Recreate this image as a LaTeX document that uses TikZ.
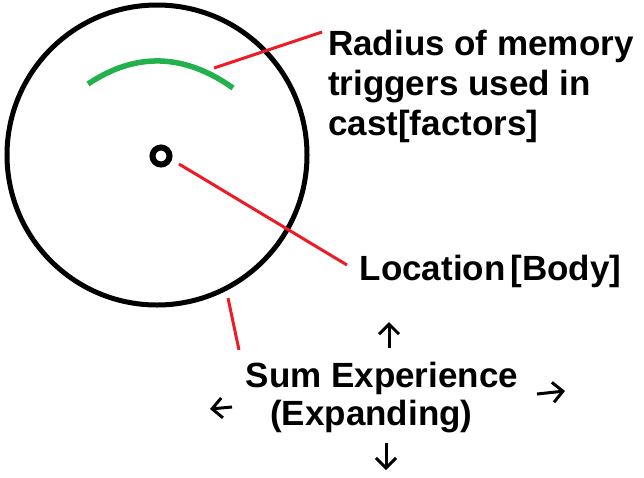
\documentclass[tikz,border=0pt]{standalone}
\usepackage{fontspec}
\setmainfont{Liberation Sans}
\usetikzlibrary{arrows.meta}
\definecolor{pred}{RGB}{237,28,36}
\definecolor{pgreen}{RGB}{34,177,76}
\tikzset{
  txtlabel/.style={anchor=base west, inner sep=0pt, font=\fontsize{35}{40}\selectfont\bfseries},
  leader/.style={draw=pred, line width=3pt},
  growarrow/.style={draw=black, line width=3pt, -{Straight Barb[length=10pt,width=20pt,line width=3pt]}}
}
\begin{document}
\begin{tikzpicture}[x=1pt,y=-1pt]
\useasboundingbox (0,0) rectangle (644,477);
% big circle and centre
\node[circle, draw, line width=5pt, minimum size=300pt, inner sep=0pt] (big) at (157,155) {};
\node[circle, draw, line width=6pt, minimum size=17pt, inner sep=0pt] (loc) at (161,156) {};
% green arc
\draw[pgreen, line width=5.5pt] (88,84) .. controls (135.7,52) and (184,53.3) .. (233,88);
% labels
\node[txtlabel] (r1) at (328,55) {Radius of memory};
\node[txtlabel] (r2) at (328,95) {triggers used in};
\node[txtlabel] (r3) at (328,135) {cast[factors]};
\node[txtlabel] (lb) at (359.5,280) {Location\hspace{5pt}[Body]};
\node[txtlabel] (s1) at (245.5,387) {Sum Experience};
\node[txtlabel] (s2) at (270,425) {(Expanding)};
% leader lines
\coordinate (a1) at (214,68);
\coordinate (a2) at (322,32);
\coordinate (b1) at (179,164);
\coordinate (b2) at (347,265);
\coordinate (c1) at (228,298);
\coordinate (c2) at (239,350);
\draw[leader] (a1) -- (a2);
\draw[leader] (b1) -- (b2);
\draw[leader] (c1) -- (c2);
% expansion arrows
\coordinate (u0) at (389,348); \coordinate (u1) at (389,322);
\coordinate (e0) at (537,394); \coordinate (e1) at (565,391);
\coordinate (w0) at (232,407); \coordinate (w1) at (210,409);
\coordinate (d0) at (386,443); \coordinate (d1) at (386,470);
\draw[growarrow] (u0) -- (u1);
\draw[growarrow] (e0) -- (e1);
\draw[growarrow] (w0) -- (w1);
\draw[growarrow] (d0) -- (d1);
\end{tikzpicture}
\end{document}
